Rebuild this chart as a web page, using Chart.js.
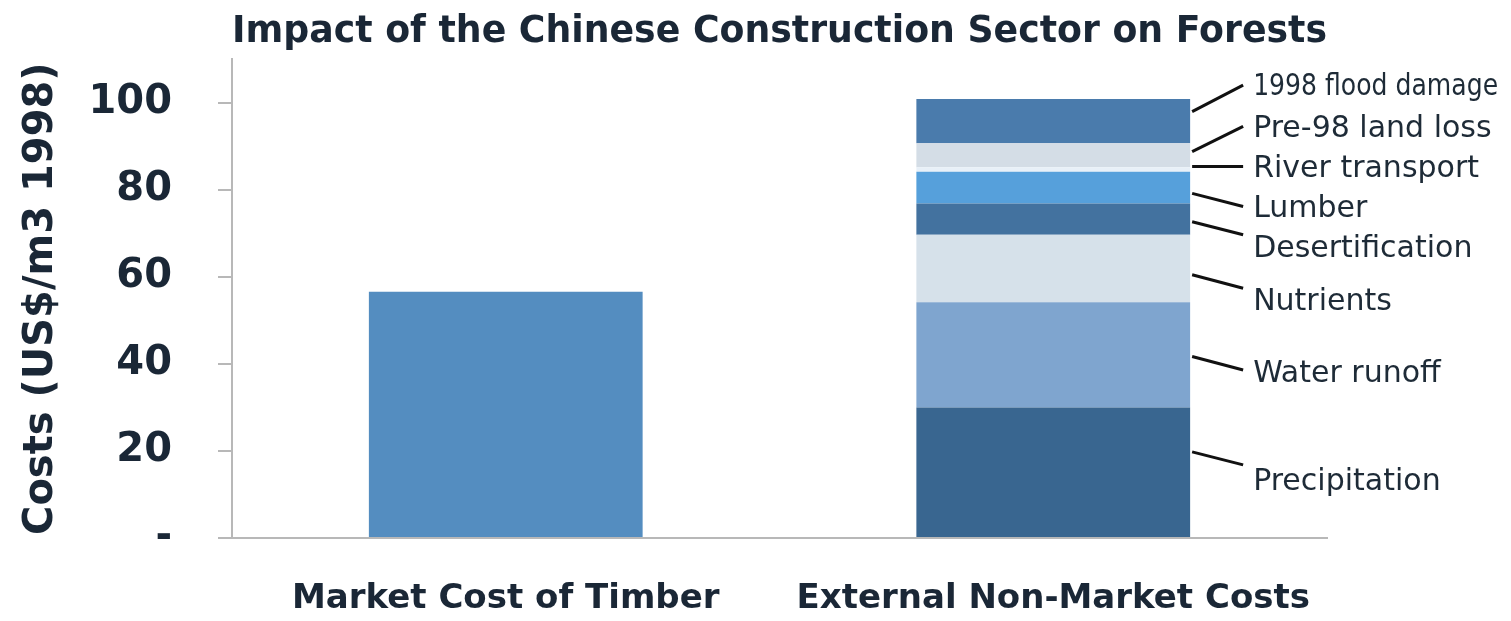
<!DOCTYPE html>
<html>
<head>
<meta charset="utf-8">
<title>Impact of the Chinese Construction Sector on Forests</title>
<script src="https://cdn.jsdelivr.net/npm/chart.js@4.4.1/dist/chart.umd.min.js"></script>
<style>
  html, body { margin: 0; padding: 0; background: #fff; }
  #wrap { width: 1511px; height: 621px; position: relative; }
</style>
</head>
<body>
<div id="wrap"><canvas id="chart"></canvas></div>
<script>
// --- data

const categories = ["Market Cost of Timber", "External Non-Market Costs"];

// market price of timber, US$/m3 (1998)
const marketCost = 56.6;

// external non-market costs, stacked from the bottom up
const costNames = ["Precipitation", "Water runoff", "Nutrients", "Desertification",
                   "Lumber", "River transport", "Pre-98 land loss", "1998 flood damage"];
const costValues = [30.0, 24.2, 15.5, 7.2, 7.3, 1.0, 5.5, 10.2];

// y axis: 0..110, labelled every 20 up to 100
const yMax = 110;
const yStep = 20;

// --- styles

const ink = "#1a2736";
const axisGrey = "#b8b8b8";
const font = "'DejaVu Sans', sans-serif";
const marketColor = "#548dc0";
const costColors = ["#396690", "#7fa5cf", "#d6e1ea", "#43729f",
                    "#56a0db", "#e8f0f8", "#d4dde6", "#4a7bac"];

// callout lines, in axis units: where each line leaves the bar, where it ends,
// and where its label sits
const leaderFrom = [19.8, 41.7, 60.5, 72.7, 79.2, 85.4, 88.8, 98.0];
const leaderTo   = [16.8, 38.6, 57.4, 69.7, 76.2, 85.4, 94.6, 104.1];
const labelAt    = [13.3, 38.2, 54.7, 66.9, 76.1, 85.3, 94.5, 104.1];

const datasets = [{
    label: categories[0],
    data: [marketCost, null],
    backgroundColor: marketColor,
}];
costNames.forEach((name, i) => {
    datasets.push({
        label: name,
        data: [null, costValues[i]],
        backgroundColor: costColors[i],
    });
});

// names of the cost parts, to the right of the stacked bar
const leaderLabels = {
    id: "leaderLabels",
    afterDatasetsDraw(chart) {
        const ctx = chart.ctx;
        const y = chart.scales.y;
        const bar = chart.getDatasetMeta(datasets.length - 1).data[1];
        const right = bar.x + bar.width / 2;

        ctx.save();
        ctx.strokeStyle = "#111";
        ctx.lineWidth = 3;
        ctx.fillStyle = "#1e2b37";
        ctx.font = "30px " + font;
        ctx.textBaseline = "middle";
        costNames.forEach((name, i) => {
            ctx.beginPath();
            ctx.moveTo(right + 2, y.getPixelForValue(leaderFrom[i]));
            ctx.lineTo(right + 53, y.getPixelForValue(leaderTo[i]));
            ctx.stroke();
            ctx.fillText(name, right + 63, y.getPixelForValue(labelAt[i]) + 2, 245);
        });
        ctx.restore();
    },
};

new Chart(document.getElementById("chart"), {
    type: "bar",
    data: { labels: categories, datasets },
    options: {
        responsive: true,
        maintainAspectRatio: false,
        animation: false,
        layout: { padding: { left: 6, right: 184, top: 0, bottom: 5 } },
        datasets: {
            bar: { barPercentage: 0.5, categoryPercentage: 1, borderWidth: 0 },
        },
        plugins: {
            legend: { display: false },
            tooltip: { enabled: false },
            title: {
                display: true,
                fullSize: false,
                text: "Impact of the Chinese Construction Sector on Forests",
                color: ink,
                font: { family: font, size: 37, weight: "bold" },
                padding: { top: 10, bottom: 5 },
            },
        },
        scales: {
            x: {
                stacked: true,
                afterFit: s => { s.height = 78; },
                grid: { display: false, drawTicks: false },
                border: { display: true, color: axisGrey, width: 2 },
                ticks: {
                    color: ink,
                    padding: 44,
                    font: { family: font, size: 34, weight: "bold", lineHeight: 1 },
                },
            },
            y: {
                stacked: true,
                min: 0,
                max: yMax,
                // fixed axis width; the wide tick padding should not push the plot down
                afterFit: s => {
                    s.width = 226;
                    s.paddingTop = 24;
                    s.paddingBottom = 24;
                },
                ticks: {
                    stepSize: yStep,
                    includeBounds: false,
                    padding: 46,
                    color: ink,
                    font: { family: font, size: 40, weight: "bold" },
                    callback: v => (v === 0 ? "-" : v),
                },
                grid: {
                    drawOnChartArea: false,
                    drawTicks: true,
                    tickLength: 14,
                    color: axisGrey,
                    lineWidth: 2,
                },
                border: { display: true, color: axisGrey, width: 2 },
                title: {
                    display: true,
                    text: "Costs (US$/m3 1998)",
                    color: ink,
                    font: { family: font, size: 40, weight: "bold" },
                    padding: { top: 12, bottom: 0 },
                },
            },
        },
    },
    plugins: [leaderLabels],
});
</script>
</body>
</html>
